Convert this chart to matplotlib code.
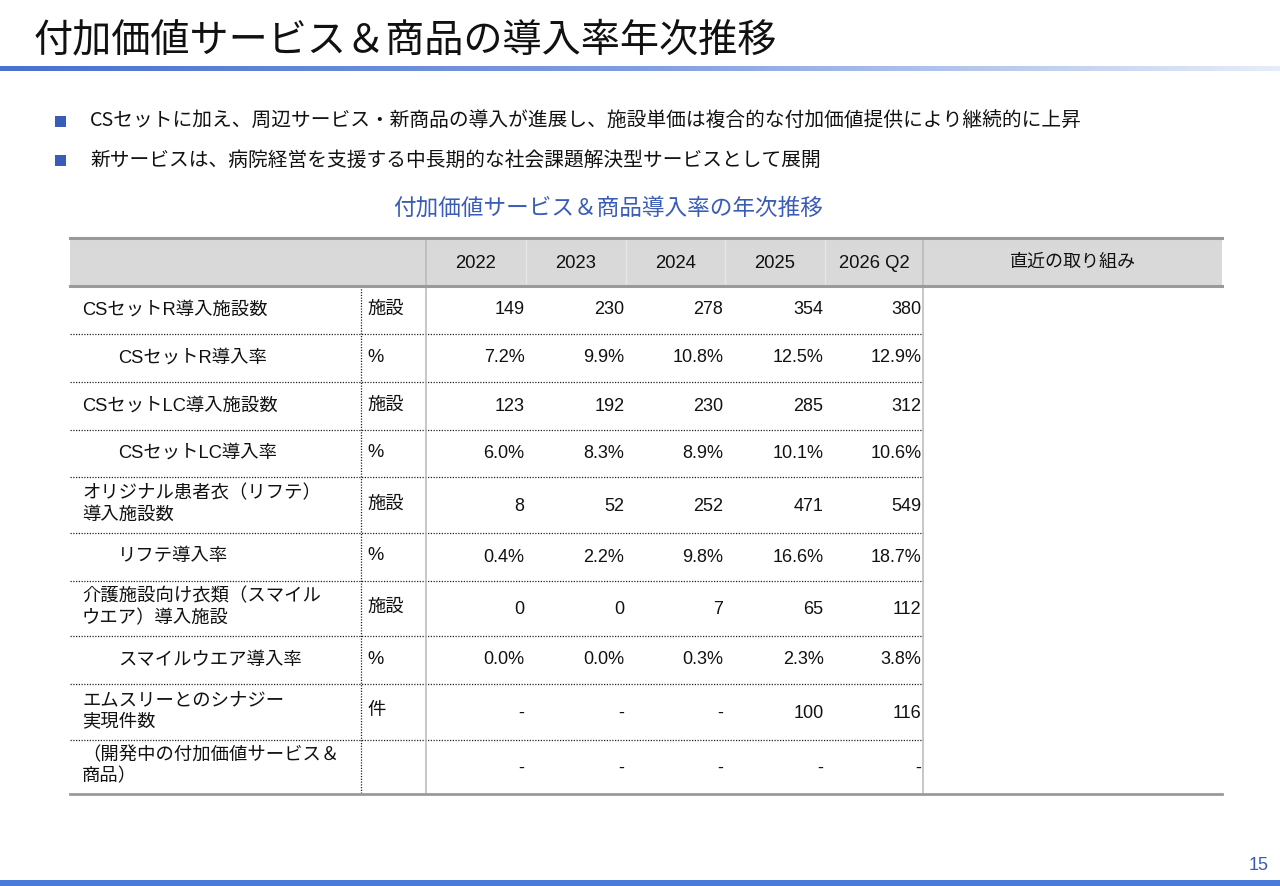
import matplotlib
matplotlib.use("Agg")
import matplotlib.pyplot as plt
import numpy as np
from matplotlib.colors import LinearSegmentedColormap

plt.rcParams['font.family'] = ['Noto Sans CJK JP', 'DejaVu Sans']

# ---------------- data ----------------
title = "付加価値サービス＆商品の導入率年次推移"
bullets = [
    "CSセットに加え、周辺サービス・新商品の導入が進展し、施設単価は複合的な付加価値提供により継続的に上昇",
    "新サービスは、病院経営を支援する中長期的な社会課題解決型サービスとして展開",
]
table_title = "付加価値サービス＆商品導入率の年次推移"
years = ["2022", "2023", "2024", "2025", "2026 Q2"]
notes_header = "直近の取り組み"

row_labels = [
    "CSセットR導入施設数",
    "CSセットR導入率",
    "CSセットLC導入施設数",
    "CSセットLC導入率",
    "オリジナル患者衣（リフテ）\n導入施設数",
    "リフテ導入率",
    "介護施設向け衣類（スマイル\nウエア）導入施設",
    "スマイルウエア導入率",
    "エムスリーとのシナジー\n実現件数",
    "（開発中の付加価値サービス＆\n商品）",
]
row_indent = [False, True, False, True, False, True, False, True, False, False]
row_units = ["施設", "%", "施設", "%", "施設", "%", "施設", "%", "件", ""]

cs_r_count = [149, 230, 278, 354, 380]
cs_r_rate = [7.2, 9.9, 10.8, 12.5, 12.9]
cs_lc_count = [123, 192, 230, 285, 312]
cs_lc_rate = [6.0, 8.3, 8.9, 10.1, 10.6]
rifute_count = [8, 52, 252, 471, 549]
rifute_rate = [0.4, 2.2, 9.8, 16.6, 18.7]
smile_count = [0, 0, 7, 65, 112]
smile_rate = [0.0, 0.0, 0.3, 2.3, 3.8]
m3_synergy = [None, None, None, 100, 116]
dev_items = [None, None, None, None, None]

rows = [cs_r_count, cs_r_rate, cs_lc_count, cs_lc_rate, rifute_count,
        rifute_rate, smile_count, smile_rate, m3_synergy, dev_items]
page_no = "15"

# ---------------- layout ----------------
W, H = 1280, 886
fig = plt.figure(figsize=(W / 100, H / 100), dpi=100)
ax = fig.add_axes([0, 0, 1, 1])
ax.set_xlim(0, W)
ax.set_ylim(H, 0)
ax.axis("off")

BLUE = "#3a5cb8"
LAT = ["Liberation Sans", "Noto Sans CJK JP"]

# title
ax.text(34, 40, title, fontsize=28.2, va="center", ha="left", color="#111111")
# gradient line under title
cmap = LinearSegmentedColormap.from_list("g", ["#4a70d0", "#809ee0", "#e6ecf9"])
grad = np.linspace(0, 1, 512).reshape(1, -1)
ax.imshow(grad, cmap=cmap, extent=[0, W, 70.5, 65.5], aspect="auto", zorder=1)

# bullets
for i, b in enumerate(bullets):
    y = 121 + i * 39
    ax.add_patch(plt.Rectangle((55, y - 5.5), 11, 11, color=BLUE, lw=0))
    ax.text(90, y, b, fontsize=14.2, va="center", ha="left", color="#111111")

# table title
ax.text(608, 208, table_title, fontsize=16.3, va="center", ha="center", color=BLUE)

# table geometry
x_left, x_right = 70, 1222
x_unit, x_val0 = 361, 426
col_edges = [426, 526, 626, 725, 825, 923]
y_top, y_head = 238, 286
row_edges = [286, 334, 382, 430, 477, 533, 581, 636, 684, 740, 794]

# header fill
ax.add_patch(plt.Rectangle((x_left, y_top), x_right - x_left, y_head - y_top,
                           color="#d9d9d9", lw=0, zorder=1))
for xe in col_edges[1:-1]:
    ax.plot([xe, xe], [y_top, y_head], color="#e6e6e6", lw=1, zorder=2)

# header texts
for i, yr in enumerate(years):
    xc = (col_edges[i] + col_edges[i + 1]) / 2
    ax.text(xc, 263, yr, fontsize=13.3, ha="center", va="center",
            family=LAT, color="#111111", zorder=3)
ax.text((col_edges[-1] + x_right) / 2, 262, notes_header, fontsize=13,
        ha="center", va="center", color="#111111", zorder=3)

# dotted row separators
for ye in row_edges[1:-1]:
    ax.plot([x_left, col_edges[-1]], [ye, ye], color="#222222", lw=0.9,
            ls=(0, (1, 1.2)), zorder=2)
# dotted vertical between label and unit
ax.plot([x_unit, x_unit], [y_head, row_edges[-1]], color="#222222", lw=0.9,
        ls=(0, (1, 1.2)), zorder=2)
# solid verticals
for xv in (x_val0, col_edges[-1]):
    ax.plot([xv, xv], [y_top, row_edges[-1]], color="#b8b8b8", lw=1.1, zorder=2)
# header/top/bottom lines
ax.plot([x_left, x_right], [y_top, y_top], color="#9a9a9a", lw=2.2, zorder=3)
ax.plot([x_left, x_right], [y_head, y_head], color="#9a9a9a", lw=2.2, zorder=3)
ax.plot([x_left, x_right], [row_edges[-1], row_edges[-1]], color="#9a9a9a", lw=2.0, zorder=3)


def fmt(v, unit):
    if v is None:
        return "-"
    if unit == "%":
        return f"{v:.1f}%"
    return f"{v:,}"


for r, (lab, ind, unit, vals) in enumerate(zip(row_labels, row_indent, row_units, rows)):
    y0, y1 = row_edges[r], row_edges[r + 1]
    yc = (y0 + y1) / 2
    two = "\n" in lab
    ax.text(118 if ind else 82, yc - (1 if two else 0), lab, fontsize=13.2,
            ha="left", va="center", color="#111111", linespacing=1.32, family=LAT)
    if unit:
        ax.text(367, yc - 1, unit, fontsize=13.2, ha="left", va="center",
                color="#111111", family=LAT)
    for i, v in enumerate(vals):
        ax.text(col_edges[i + 1] - 1.5, yc + (1 if two else 0), fmt(v, unit),
                fontsize=13, ha="right", va="center", family=LAT, color="#111111")

# page number and bottom bar
ax.text(1269, 866, page_no, fontsize=13, ha="right", va="center", color=BLUE,
        family=LAT)
ax.add_patch(plt.Rectangle((0, 880), W, 6, color="#4a7bdb", lw=0))

fig.savefig("out.png", dpi=100)
